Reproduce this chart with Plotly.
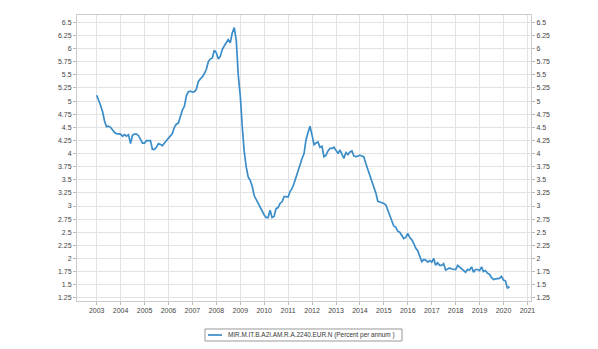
import plotly.graph_objects as go

# Monthly values, Jan 2003 .. Apr 2020 (percent per annum)
v2003 = [5.11, 5.02, 4.92, 4.80, 4.62, 4.51, 4.52, 4.50, 4.45, 4.40, 4.38, 4.37]
v2004 = [4.37, 4.33, 4.36, 4.33, 4.36, 4.19, 4.35, 4.37, 4.37, 4.34, 4.28, 4.20]
v2005 = [4.20, 4.25, 4.24, 4.25, 4.08, 4.08, 4.12, 4.19, 4.17, 4.15, 4.20, 4.25]
v2006 = [4.29, 4.35, 4.38, 4.50, 4.56, 4.58, 4.70, 4.83, 4.90, 5.10, 5.18, 5.19]
v2007 = [5.17, 5.18, 5.22, 5.37, 5.42, 5.46, 5.52, 5.60, 5.75, 5.80, 5.82, 5.97]
v2008 = [5.92, 5.80, 5.85, 5.98, 6.05, 6.10, 6.17, 6.11, 6.30, 6.40, 6.15, 5.50]
v2009 = [5.10, 4.50, 4.05, 3.75, 3.56, 3.49, 3.38, 3.20, 3.12, 3.06, 2.98, 2.90]
v2010 = [2.83, 2.78, 2.78, 2.92, 2.78, 2.80, 2.95, 2.97, 3.05, 3.08, 3.18, 3.18]
v2011 = [3.17, 3.28, 3.33, 3.43, 3.55, 3.65, 3.81, 3.90, 4.00, 4.26, 4.40, 4.52]
v2012 = [4.35, 4.17, 4.20, 4.22, 4.12, 4.14, 3.94, 3.97, 4.05, 4.10, 4.10, 4.12]
v2013 = [4.06, 4.00, 4.07, 4.00, 3.91, 4.02, 3.98, 4.03, 4.05, 3.95, 3.94, 3.95]
v2014 = [3.97, 3.95, 3.94, 3.81, 3.70, 3.56, 3.49, 3.37, 3.25, 3.09, 3.08, 3.06]
v2015 = [3.05, 3.02, 2.92, 2.85, 2.70, 2.62, 2.60, 2.52, 2.50, 2.44, 2.38, 2.40]
v2016 = [2.48, 2.40, 2.36, 2.29, 2.20, 2.15, 2.06, 1.94, 1.98, 1.97, 1.93, 1.96]
v2017 = [1.93, 2.00, 1.87, 1.92, 1.87, 1.87, 1.90, 1.78, 1.80, 1.82, 1.80, 1.79]
v2018 = [1.79, 1.87, 1.84, 1.81, 1.76, 1.74, 1.79, 1.78, 1.84, 1.74, 1.79, 1.79]
v2019 = [1.77, 1.84, 1.75, 1.77, 1.72, 1.70, 1.64, 1.60, 1.61, 1.62, 1.62, 1.66]
v2020 = [1.59, 1.57, 1.43, 1.47]

yearly = [v2003, v2004, v2005, v2006, v2007, v2008, v2009, v2010, v2011,
          v2012, v2013, v2014, v2015, v2016, v2017, v2018, v2019, v2020]
start_year = 2003

values = []
dates = []
for i, arr in enumerate(yearly):
    for m, v in enumerate(arr):
        dates.append(f"{start_year + i}-{m + 1:02d}-01")
        values.append(v)

series_name = "MIR.M.IT.B.A2I.AM.R.A.2240.EUR.N (Percent per annum )"

y_tickvals = [1.25, 1.5, 1.75, 2, 2.25, 2.5, 2.75, 3, 3.25, 3.5, 3.75, 4,
              4.25, 4.5, 4.75, 5, 5.25, 5.5, 5.75, 6, 6.25, 6.5]
y_ticktext = ["1.25", "1.5", "1.75", "2", "2.25", "2.5", "2.75", "3", "3.25",
              "3.5", "3.75", "4", "4.25", "4.5", "4.75", "5", "5.25", "5.5",
              "5.75", "6", "6.25", "6.5"]
x_years = list(range(2003, 2022))
x_tickvals = [f"{y}-01-01" for y in x_years]
x_ticktext = [str(y) for y in x_years]

line_color = "rgb(58,141,201)"
font = dict(family="Liberation Sans, Arial, sans-serif", size=7, color="#444")

fig = go.Figure()
fig.add_trace(go.Scatter(x=dates, y=values, mode="lines", name=series_name,
                         showlegend=False,
                         line=dict(color=line_color, width=1.7)))
fig.add_trace(go.Scatter(x=dates, y=values, mode="lines", yaxis="y2",
                         showlegend=False, hoverinfo="skip",
                         line=dict(color="rgba(0,0,0,0)", width=0)))

yax = dict(range=[1.19, 6.64], tickvals=y_tickvals, ticktext=y_ticktext,
           showgrid=True, gridcolor="#e3e3e3", gridwidth=1,
           ticks="outside", ticklen=3, tickcolor="#bbb",
           tickfont=font, zeroline=False, showline=True, linecolor="#ccc",
           automargin=False)

# Legend box drawn below the plot area (paper coordinates)
fig.add_shape(type="rect", xref="paper", yref="paper",
              x0=0.2819, x1=0.7159, y0=-0.0979, y1=-0.1399,
              line=dict(color="#999", width=1), fillcolor="white", layer="above")
fig.add_shape(type="line", xref="paper", yref="paper",
              x0=0.2885, x1=0.3194, y0=-0.1189, y1=-0.1189,
              line=dict(color=line_color, width=1.7), layer="above")
fig.add_annotation(text=series_name, xref="paper", yref="paper",
                   x=0.3282, y=-0.1189, xanchor="left", yanchor="middle",
                   showarrow=False,
                   font=dict(family="Liberation Sans, Arial, sans-serif",
                             size=6.4, color="#333"))

# The page body has a default 8px margin, so the figure is sized to fit.
fig.update_layout(
    width=590, height=341,
    margin=dict(l=69, r=67, t=7, b=48),
    paper_bgcolor="white", plot_bgcolor="white",
    font=font,
    xaxis=dict(type="date", range=["2002-03-07", "2021-02-24"],
               tickvals=x_tickvals, ticktext=x_ticktext,
               showgrid=True, gridcolor="#e3e3e3", gridwidth=1,
               ticks="outside", ticklen=3, tickcolor="#bbb",
               tickfont=font, showline=True, linecolor="#ccc", mirror=True,
               zeroline=False, automargin=False),
    yaxis=dict(**yax, side="left"),
    yaxis2=dict(**yax, side="right", overlaying="y"),
    showlegend=False,
)

fig.write_html("out.html")
